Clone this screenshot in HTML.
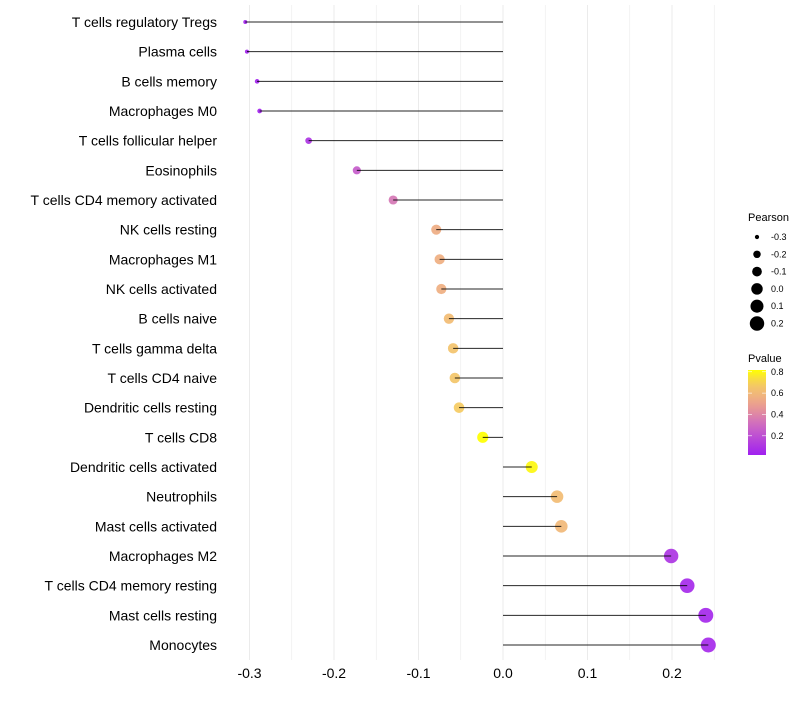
<!DOCTYPE html>
<html><head><meta charset="utf-8"><style>
body{margin:0;background:#fff;font-family:"Liberation Sans",sans-serif}
</style></head><body>
<svg id="chart" width="800" height="700"></svg>
<script>
const categories=["T cells regulatory  Tregs","Plasma cells","B cells memory","Macrophages M0","T cells follicular helper","Eosinophils","T cells CD4 memory activated","NK cells resting","Macrophages M1","NK cells activated","B cells naive","T cells gamma delta","T cells CD4 naive","Dendritic cells resting","T cells CD8","Dendritic cells activated","Neutrophils","Mast cells activated","Macrophages M2","T cells CD4 memory resting","Mast cells resting","Monocytes"];
const pearson=[-0.305,-0.303,-0.291,-0.288,-0.230,-0.173,-0.130,-0.079,-0.075,-0.073,-0.064,-0.059,-0.057,-0.052,-0.024,0.034,0.064,0.069,0.199,0.218,0.240,0.243];
const pvalue=[0.03,0.03,0.03,0.03,0.1,0.25,0.35,0.55,0.56,0.56,0.62,0.65,0.66,0.69,0.85,0.8,0.62,0.6,0.1,0.06,0.05,0.06];
const xTicks=[-0.3,-0.2,-0.1,0.0,0.1,0.2];
const xTickLabels=["-0.3","-0.2","-0.1","0.0","0.1","0.2"];
const sizeBreaks=[-0.3,-0.2,-0.1,0.0,0.1,0.2];
const colorBreaks=[0.2,0.4,0.6,0.8];
const NS="http://www.w3.org/2000/svg";
const svg=document.getElementById('chart');
function mk(t,a,p){const e=document.createElementNS(NS,t);for(const k in a)e.setAttribute(k,a[k]);(p||svg).appendChild(e);return e;}
const x=v=>503+v*845;
const y=i=>22+i*(623/21);
const pMin=Math.min(...pearson),pMax=Math.max(...pearson);
const r=v=>Math.sqrt(4+(v-pMin)/(pMax-pMin)*(56-4));
const stops=[[0,[160,32,240]],[0.35,[205,105,195]],[0.55,[232,150,150]],[0.7,[240,180,125]],[0.85,[245,205,95]],[1,[255,255,0]]];
function col(p){let t=(p-0.02)/0.8;t=Math.max(0,Math.min(1,t));for(let i=1;i<stops.length;i++){if(t<=stops[i][0]){const a=stops[i-1],b=stops[i];const f=(t-a[0])/(b[0]-a[0]);return 'rgb('+a[1].map((c,j)=>Math.round(c+(b[1][j]-c)*f)).join(',')+')';}}return 'rgb(255,255,0)';}
for(let v=-0.3;v<=0.251;v+=0.05){const g=mk('line',{x1:x(v),x2:x(v),y1:5,y2:660,stroke:'#ebebeb','stroke-width':Math.abs(Math.round(v*20)%2)===0?1:0.6});
}
xTicks.forEach((v,i)=>{const t=mk('text',{x:x(v),y:678,'text-anchor':'middle','font-size':14,fill:'#000'});t.textContent=xTickLabels[i];
});
categories.forEach((c,i)=>{
 const t=mk('text',{x:217,y:y(i)+5,'text-anchor':'end','font-size':14,fill:'#000'});t.textContent=c;
 
 const d=mk('circle',{cx:x(pearson[i]),cy:y(i),r:r(pearson[i]),fill:col(pvalue[i]),'fill-opacity':0.92});
 
 const l=mk('line',{x1:x(0),x2:x(pearson[i]),y1:y(i),y2:y(i),stroke:'#000','stroke-width':1,'stroke-opacity':0.85});
 
});
const st=mk('text',{x:748,y:221,'font-size':11});st.textContent='Pearson';

sizeBreaks.forEach((v,i)=>{const cy=237+i*17.3;
 const c=mk('circle',{cx:757,cy:cy,r:r(v),fill:'#000'});
 const t=mk('text',{x:771,y:cy+3,'font-size':9});t.textContent=v.toFixed(1);});
const ct=mk('text',{x:748,y:362,'font-size':11});ct.textContent='Pvalue';

const defs=mk('defs',{});const lg=mk('linearGradient',{id:'pg',x1:0,y1:1,x2:0,y2:0},defs);
for(let k=0;k<=10;k++){mk('stop',{offset:k/10,'stop-color':col(0.02+k*0.08)},lg);}
const bar=mk('rect',{x:748,y:370,width:18,height:85,fill:'url(#pg)'});

colorBreaks.forEach(v=>{const yy=455-(v-0.02)*106.7;
 mk('line',{x1:748,x2:752,y1:yy,y2:yy,stroke:'#fff','stroke-width':0.6});mk('line',{x1:762,x2:766,y1:yy,y2:yy,stroke:'#fff','stroke-width':0.6});
 const t=mk('text',{x:771,y:yy+3,'font-size':9});t.textContent=v.toFixed(1);});
</script>
</body></html>
